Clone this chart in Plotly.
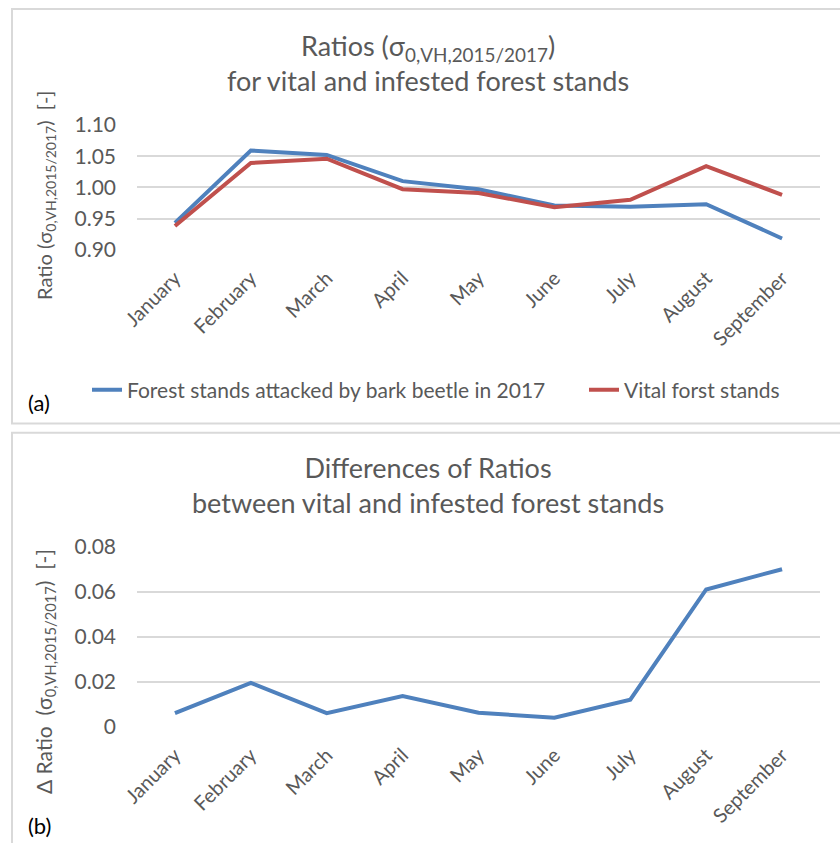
import plotly.graph_objects as go

# Monthly backscatter ratios (sigma0 VH, 2015/2017)
months = ["January", "February", "March", "April", "May", "June", "July", "August", "September"]
infested = [0.943, 1.059, 1.052, 1.010, 0.997, 0.971, 0.969, 0.973, 0.918]
vital = [0.938, 1.039, 1.046, 0.997, 0.991, 0.968, 0.980, 1.034, 0.988]
delta = [0.006, 0.0195, 0.006, 0.0136, 0.0062, 0.004, 0.012, 0.061, 0.070]

ratio_ticks = [0.90, 0.95, 1.00, 1.05, 1.10]
ratio_ticktext = ["0.90", "0.95", "1.00", "1.05", "1.10"]
delta_ticks = [0, 0.02, 0.04, 0.06, 0.08]
delta_ticktext = ["0", "0.02", "0.04", "0.06", "0.08"]

W, H = 840, 843
BLUE = "#4F81BD"
RED = "#C0504D"
GREY_TXT = "#595959"
GRID = "#D9D9D9"
FONT = "Lato"


def px(x):
    return x / W


def py(y):
    return 1 - y / H


fig = go.Figure()

fig.add_trace(go.Scatter(x=months, y=infested, mode="lines", name="Forest stands attacked by bark beetle in 2017",
                         line=dict(color=BLUE, width=4), xaxis="x", yaxis="y", legend="legend"))
fig.add_trace(go.Scatter(x=months, y=vital, mode="lines", name="Vital forst stands",
                         line=dict(color=RED, width=4), xaxis="x", yaxis="y", legend="legend2"))
fig.add_trace(go.Scatter(x=months, y=delta, mode="lines", name="Difference", showlegend=False,
                         line=dict(color=BLUE, width=4), xaxis="x2", yaxis="y2"))

xcommon = dict(type="category", range=[-0.5, 8.5], showgrid=False, showline=False, zeroline=False,
               tickangle=-45, ticks="", ticklabelstandoff=12, automargin=False,
               tickfont=dict(family=FONT, size=20, color=GREY_TXT))
ycommon = dict(showgrid=True, gridcolor=GRID, gridwidth=1.5, zeroline=False, showline=False,
               ticks="", ticklabelstandoff=20, automargin=False,
               tickfont=dict(family=FONT, size=21, color=GREY_TXT))
legend_common = dict(orientation="h", y=py(390), xanchor="left", yanchor="middle",
                     font=dict(family=FONT, size=21, color=GREY_TXT), bgcolor="rgba(0,0,0,0)")

fig.update_layout(
    width=W, height=H, margin=dict(l=0, r=0, t=0, b=0, autoexpand=False),
    paper_bgcolor="white", plot_bgcolor="white",
    xaxis=dict(domain=[px(137), px(820)], anchor="y", **xcommon),
    yaxis=dict(domain=[py(249.7), py(125)], anchor="x", range=[0.90, 1.10],
               tickvals=ratio_ticks, ticktext=ratio_ticktext, **ycommon),
    xaxis2=dict(domain=[px(137), px(820)], anchor="y2", **xcommon),
    yaxis2=dict(domain=[py(726.7), py(546.7)], anchor="x2", range=[0, 0.08],
                tickvals=delta_ticks, ticktext=delta_ticktext, **ycommon),
    showlegend=True,
    legend=dict(x=px(87), **legend_common),
    legend2=dict(x=px(584), **legend_common),
)

# Panel frames
fig.add_shape(type="rect", xref="paper", yref="paper", x0=px(12), x1=1.02, y0=py(423.5), y1=py(9),
              line=dict(color=GRID, width=2), fillcolor="rgba(0,0,0,0)", layer="below")
fig.add_shape(type="rect", xref="paper", yref="paper", x0=px(12), x1=1.02, y0=-0.02, y1=py(432.7),
              line=dict(color=GRID, width=2), fillcolor="rgba(0,0,0,0)", layer="below")

sig = "σ<sub>0,VH,2015/2017</sub>"
nb = "\u00a0"
annots = [
    dict(x=px(428), y=py(63), text=f"Ratios ({sig})<br>for vital and infested forest stands",
         font=dict(family=FONT, size=27, color=GREY_TXT), textangle=0),
    dict(x=px(428), y=py(485), text="Differences of Ratios<br>between vital and infested forest stands",
         font=dict(family=FONT, size=27, color=GREY_TXT), textangle=0),
    dict(x=px(45), y=py(196), text=f"Ratio{nb}({sig}){nb}{nb}[-]",
         font=dict(family=FONT, size=20, color=GREY_TXT), textangle=-90),
    dict(x=px(45), y=py(672), text=f"Δ{nb}Ratio{nb}{nb}({sig}){nb}{nb}[-]",
         font=dict(family=FONT, size=21, color=GREY_TXT), textangle=-90),
    dict(x=px(39), y=py(402), text="(a)", font=dict(family=FONT, size=22, color="black"), textangle=0),
    dict(x=px(39), y=py(825), text="(b)", font=dict(family=FONT, size=22, color="black"), textangle=0),
]
for a in annots:
    fig.add_annotation(xref="paper", yref="paper", showarrow=False, xanchor="center", yanchor="middle", **a)

fig.write_html("out.html")
